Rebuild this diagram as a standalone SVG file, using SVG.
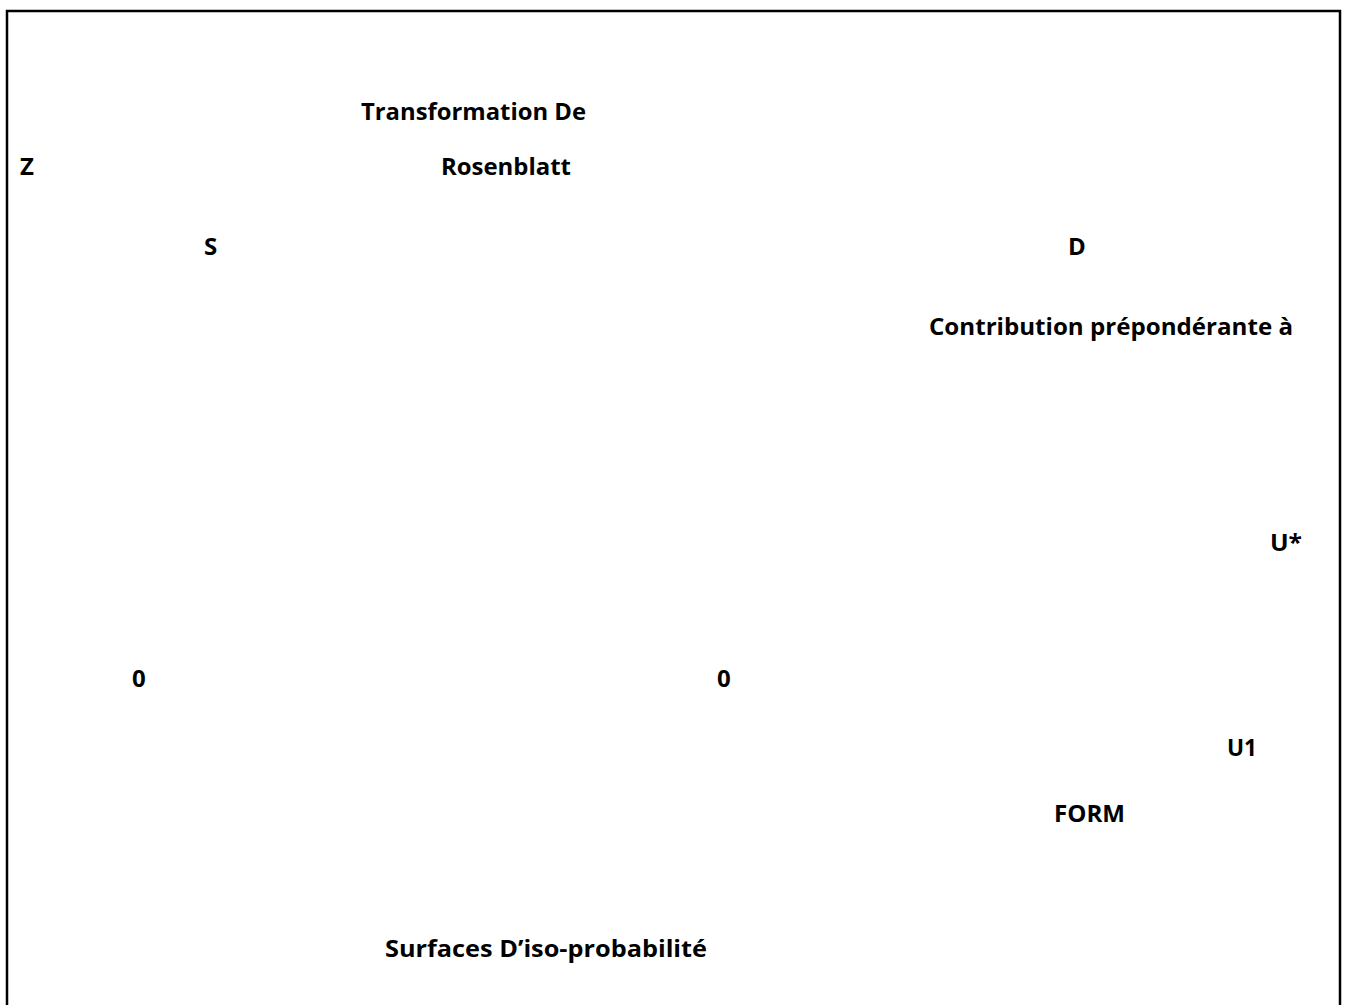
<svg xmlns="http://www.w3.org/2000/svg" width="1350" height="1005" viewBox="0 0 1350 1005">
<style>
.lbl{font-family:"Open Sans","Liberation Sans",sans-serif;font-weight:700;font-size:24px;fill:#000}
.frame{fill:none;stroke:#000;stroke-width:2.5}
</style>
<rect x="0" y="0" width="1350" height="1005" fill="#fff"/>
<path class="frame" d="M7,1005 V11 H1340 V1005"/>
<g id="connectors"></g>
<g id="n-transformation"><text class="lbl" x="361" y="120" textLength="225" lengthAdjust="spacingAndGlyphs">Transformation De</text></g>
<g id="n-z"><text class="lbl" x="20" y="175">Z</text></g>
<g id="n-rosenblatt"><text class="lbl" x="441" y="175" textLength="130" lengthAdjust="spacingAndGlyphs">Rosenblatt</text></g>
<g id="n-s"><text class="lbl" x="204" y="255">S</text></g>
<g id="n-d"><text class="lbl" x="1068" y="255">D</text></g>
<g id="n-contribution"><text class="lbl" x="929" y="335" textLength="364" lengthAdjust="spacingAndGlyphs">Contribution prépondérante à</text></g>
<g id="n-ustar"><text class="lbl" x="1270" y="551" textLength="32" lengthAdjust="spacingAndGlyphs">U*</text></g>
<g id="n-zero1"><text class="lbl" x="132" y="687">0</text></g>
<g id="n-zero2"><text class="lbl" x="717" y="687">0</text></g>
<g id="n-u1"><text class="lbl" x="1227" y="756" textLength="30" lengthAdjust="spacingAndGlyphs">U1</text></g>
<g id="n-form"><text class="lbl" x="1054" y="822" textLength="71" lengthAdjust="spacingAndGlyphs">FORM</text></g>
<g id="n-surfaces"><text class="lbl" x="385" y="957" textLength="322" lengthAdjust="spacingAndGlyphs">Surfaces D’iso-probabilité</text></g>
</svg>
